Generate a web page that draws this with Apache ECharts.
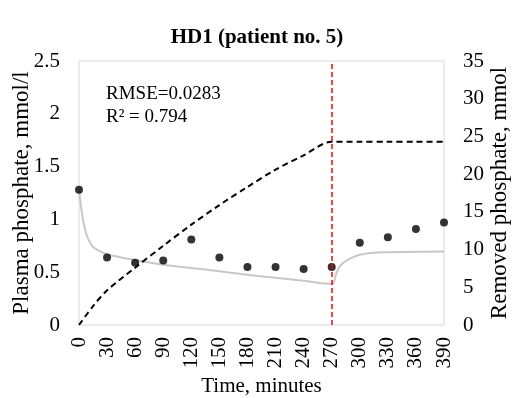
<!DOCTYPE html>
<html>
<head>
<meta charset="utf-8">
<script src="https://cdn.jsdelivr.net/npm/echarts@6/dist/echarts.min.js"></script>
<style>
  html, body { margin: 0; padding: 0; background: #fff; }
  #chart { width: 514px; height: 398px; }
</style>
</head>
<body>
<div id="chart"></div>
<script>
// measured plasma phosphate (mmol/l), sampled every 30 min
const measuredTime = [0, 30, 60, 90, 120, 150, 180, 210, 240, 270, 300, 330, 360, 390];
const measuredPlasma = [1.28, 0.64, 0.59, 0.61, 0.81, 0.64, 0.55, 0.55, 0.53, 0.55, 0.78, 0.83, 0.91, 0.97];

// model curve for plasma phosphate (grey line)
const modelTime = [0, 3, 6, 10, 15, 20, 30, 45, 60, 90, 120, 150, 180, 210, 240, 270, 275, 280, 290, 300, 315, 330, 360, 390];
const modelPlasma = [1.28, 1.07, 0.92, 0.81, 0.74, 0.71, 0.67, 0.64, 0.615, 0.57, 0.54, 0.51, 0.476, 0.447, 0.418, 0.39, 0.49, 0.57, 0.63, 0.665, 0.685, 0.69, 0.693, 0.695];

// cumulative removed phosphate (mmol), right axis
const removedTime = [0, 15, 30, 60, 90, 120, 150, 180, 210, 240, 270, 300, 330, 360, 390];
const removedPhosphate = [0, 2.5, 4.6, 7.6, 10.5, 13.3, 15.9, 18.3, 20.6, 22.5, 24.3, 24.3, 24.3, 24.3, 24.3];

const endOfDialysis = 270;

const fontFamily = '"Liberation Serif", "Times New Roman", serif';
const textColor = '#000';

const zip = (xs, ys) => xs.map((x, i) => [x, ys[i]]);

const chart = echarts.init(document.getElementById('chart'));

chart.setOption({
  animation: false,
  textStyle: { fontFamily },
  title: {
    text: 'HD1 (patient no. 5)',
    left: 'center',
    top: 22,
    textStyle: { fontFamily, fontSize: 21, fontWeight: 'bold', color: textColor }
  },
  graphic: [
    {
      type: 'text',
      left: 106,
      top: 83,
      style: {
        text: 'RMSE=0.0283\nR² = 0.794',
        font: '19px ' + fontFamily,
        fill: textColor,
        lineHeight: 23
      }
    }
  ],
  grid: {
    left: 79,
    right: 70,
    top: 61,
    bottom: 73,
    outerBoundsMode: 'none',
    containLabel: false,
    show: true,
    borderColor: '#d9d9d9',
    borderWidth: 1
  },
  xAxis: {
    type: 'value',
    min: 0,
    max: 390,
    interval: 30,
    name: 'Time, minutes',
    nameLocation: 'middle',
    nameGap: 49,
    nameTextStyle: { fontFamily, fontSize: 21, color: textColor },
    axisLine: { show: false },
    axisTick: { show: false },
    splitLine: { show: false },
    axisLabel: { rotate: 90, margin: 12, fontFamily, fontSize: 21, color: textColor }
  },
  yAxis: [
    {
      type: 'value',
      min: 0,
      max: 2.5,
      interval: 0.5,
      name: 'Plasma phosphate, mmol/l',
      nameLocation: 'middle',
      nameGap: 46,
      nameMoveOverlap: false,
      nameTextStyle: { fontFamily, fontSize: 23, color: textColor },
      axisLine: { show: false },
      axisTick: { show: false },
      splitLine: { show: false },
      axisLabel: { margin: 19, fontFamily, fontSize: 21, color: textColor }
    },
    {
      type: 'value',
      min: 0,
      max: 35,
      interval: 5,
      position: 'right',
      name: 'Removed phosphate, mmol',
      nameLocation: 'middle',
      nameGap: 44,
      nameMoveOverlap: false,
      nameTextStyle: { fontFamily, fontSize: 23, color: textColor },
      axisLine: { show: false },
      axisTick: { show: false },
      splitLine: { show: false },
      axisLabel: { margin: 19, fontFamily, fontSize: 21, color: textColor }
    }
  ],
  series: [
    {
      name: 'Model',
      type: 'line',
      data: zip(modelTime, modelPlasma),
      smooth: 0.4,
      showSymbol: false,
      lineStyle: { color: '#c8c8c8', width: 2 },
      z: 2
    },
    {
      name: 'Removed phosphate',
      type: 'line',
      yAxisIndex: 1,
      data: zip(removedTime, removedPhosphate),
      smooth: 0.3,
      showSymbol: false,
      lineStyle: { color: '#000', width: 2, type: [6, 4] },
      z: 3
    },
    {
      name: 'Measured',
      type: 'scatter',
      data: zip(measuredTime, measuredPlasma),
      symbolSize: 8,
      itemStyle: { color: '#000' },
      z: 4,
      markLine: {
        silent: true,
        symbol: 'none',
        label: { show: false },
        lineStyle: { color: '#ff0000', width: 1.5, type: [5, 3] },
        data: [{ xAxis: endOfDialysis }]
      }
    }
  ]
});
</script>
</body>
</html>
